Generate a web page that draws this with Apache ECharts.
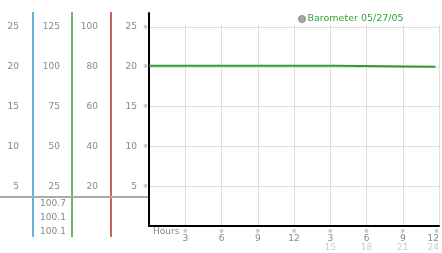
<!DOCTYPE html>
<html><head><meta charset="utf-8">
<script src="https://cdn.jsdelivr.net/npm/echarts@6/dist/echarts.min.js"></script>
<style>html,body{margin:0;padding:0;background:#fff}#c{width:442px;height:253px}</style>
</head><body><div id="c"></div>
<script>
// ---- data ----
const hours = [0, 15.5, 15.5, 23.7];
const barometer = [100.7, 100.7, 100.1, 100.1];
const seriesName = 'Barometer 05/27/05';
const ticksMain = [5, 10, 15, 20, 25];
const ticksCol2 = [25, 50, 75, 100, 125];
const ticksCol3 = [20, 40, 60, 80, 100];
const hourTicks = [3, 6, 9, 12, 15, 18, 21, 24];
const hourLabelsTop = ['3', '6', '9', '12', '3', '6', '9', '12'];
const hourLabelsBottom = ['', '', '', '', '15', '18', '21', '24'];
const baroReadings = ['100.7', '100.1', '100.1'];

const FONT = 'DejaVu Sans';
const GRAY = '#888';
const mainMax = 26.76;

function colAxis(scale, ticks, offset) {
  return {
    type: 'value', gridIndex: 0, position: 'left', offset: offset,
    min: 0, max: mainMax * scale, interval: 5 * scale,
    axisLine: {show: false}, axisTick: {show: false}, splitLine: {show: false},
    axisLabel: {
      margin: 0, color: GRAY, fontFamily: FONT, fontSize: 9,
      formatter: v => ticks.indexOf(Math.round(v * 1000) / 1000) >= 0 ? String(Math.round(v)) : ''
    }
  };
}

const chart = echarts.init(document.getElementById('c'), null, {renderer: 'canvas'});
const gridColor = '#dddddd';
chart.setOption({
  animation: false,
  textStyle: {fontFamily: FONT},
  grid: [
    {left: 149, right: 3, top: 13, bottom: 27, containLabel: false},
    {left: 149, right: 3, top: 25, bottom: 27, containLabel: false}
  ],
  legend: {
    left: 298, top: 14, padding: 0, icon: 'circle', itemWidth: 7, itemHeight: 7, itemGap: 2,
    itemStyle: {color: '#aaa', borderColor: '#888', borderWidth: 1},
    textStyle: {color: '#33a533', fontFamily: FONT, fontSize: 9.5, padding: [0, 0, 0, -3]},
    data: [seriesName]
  },
  xAxis: [
    {
      type: 'value', gridIndex: 0, min: 0, max: 24, interval: 3,
      axisLine: {lineStyle: {color: '#000', width: 2}},
      axisTick: {show: false}, splitLine: {show: false},
      axisLabel: {
        margin: 2, alignMaxLabel: 'right',
        formatter: v => {
          const i = hourTicks.indexOf(v);
          if (i < 0) return '';
          let s = '{m|※}\n{a|' + hourLabelsTop[i] + '}';
          if (hourLabelsBottom[i]) s += '\n{b|' + hourLabelsBottom[i] + '}';
          return s;
        },
        rich: {
          m: {fontSize: 6, color: '#999', lineHeight: 6, fontFamily: FONT},
          a: {fontSize: 9, color: GRAY, lineHeight: 9, fontFamily: FONT},
          b: {fontSize: 9, color: '#ccc', lineHeight: 10, fontFamily: FONT}
        }
      }
    },
    {
      type: 'value', gridIndex: 1, min: 0, max: 24, interval: 3,
      axisLine: {show: false}, axisTick: {show: false}, axisLabel: {show: false},
      splitLine: {show: true, lineStyle: {color: gridColor, width: 1}}
    }
  ],
  yAxis: [
    {
      type: 'value', gridIndex: 0, min: 0, max: mainMax, interval: 5,
      axisLine: {show: true, lineStyle: {color: '#000', width: 2}},
      axisTick: {show: false},
      splitLine: {show: true, lineStyle: {color: [gridColor, gridColor, gridColor, gridColor, gridColor, gridColor, 'rgba(0,0,0,0)']}},
      axisLabel: {
        margin: 1,
        formatter: v => ticksMain.indexOf(v) >= 0 ? '{a|' + v + '}{m|※}' : '',
        rich: {
          a: {fontSize: 9, color: GRAY, fontFamily: FONT},
          m: {fontSize: 6, color: '#999', padding: [0, 0, 0, 6], fontFamily: FONT}
        }
      }
    },
    colAxis(1, ticksMain, 130),
    colAxis(5, ticksCol2, 89),
    colAxis(4, ticksCol3, 51),
    {type: 'value', gridIndex: 1, show: false, min: 0, max: 1}
  ],
  series: [{
    name: seriesName, type: 'line', xAxisIndex: 0, yAxisIndex: 2,
    showSymbol: false, symbol: 'none',
    itemStyle: {color: '#aaa'},
    lineStyle: {color: '#2f9a2f', width: 2},
    data: hours.map((h, i) => [h, barometer[i]])
  }],
  graphic: [
    {type: 'line', shape: {x1: 33, y1: 12, x2: 33, y2: 237}, style: {stroke: '#3399cc', lineWidth: 1.5}},
    {type: 'line', shape: {x1: 72, y1: 12, x2: 72, y2: 237}, style: {stroke: '#33a033', lineWidth: 1.5}},
    {type: 'line', shape: {x1: 111, y1: 12, x2: 111, y2: 237}, style: {stroke: '#b03030', lineWidth: 1.5}},
    {type: 'line', shape: {x1: 0, y1: 197, x2: 149, y2: 197}, style: {stroke: '#aaa', lineWidth: 2}},
    {type: 'text', left: 153, top: 227, style: {text: 'Hours', fill: GRAY, font: '9px "DejaVu Sans"'}},
    ...baroReadings.map((t, i) => ({
      type: 'text', x: 53, y: 204 + i * 14,
      style: {text: t, fill: GRAY, font: '9px "DejaVu Sans"', align: 'center', verticalAlign: 'middle'}
    }))
  ]
});
</script></body></html>
